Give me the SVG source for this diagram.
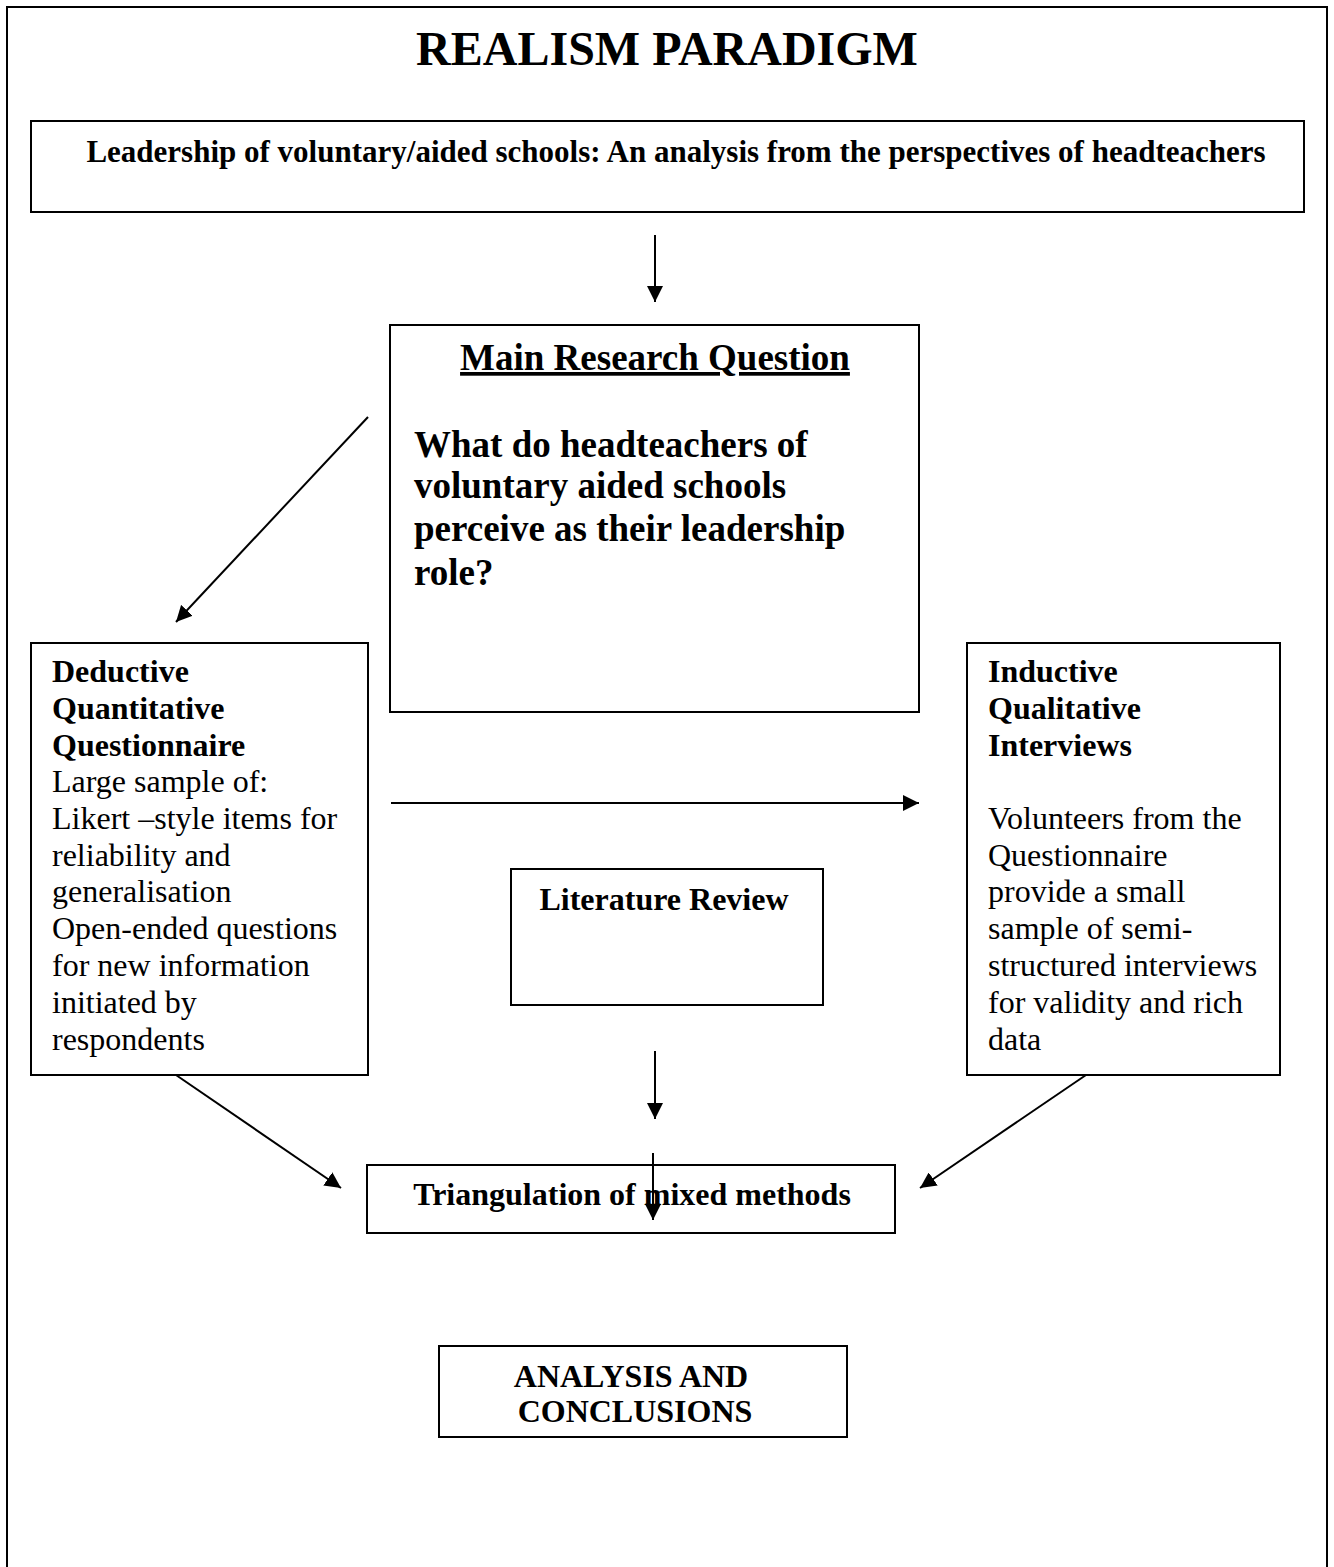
<svg xmlns="http://www.w3.org/2000/svg" width="1334" height="1567" viewBox="0 0 1334 1567">
<style>
.box{fill:#fff;stroke:#000;stroke-width:2}
.t{font-family:"Liberation Serif","Times New Roman",serif;fill:#000}
.b{font-weight:bold}
.c{stroke:#000;stroke-width:2;fill:none}
</style>
<defs>
<marker id="ah" viewBox="0 0 10 10" refX="10" refY="5" markerWidth="16" markerHeight="16" markerUnits="userSpaceOnUse" orient="auto">
<path d="M0,0 L10,5 L0,10 z" fill="#000"/>
</marker>
</defs>
<rect width="1334" height="1567" fill="#fff"/>
<path d="M7,1567 V7 H1327 V1567" class="c"/>
<text class="t b" x="667" y="65" font-size="48" text-anchor="middle">REALISM PARADIGM</text>

<g id="topic">
<rect class="box" x="31" y="121" width="1273" height="91"/>
<text class="t b" x="676" y="162" font-size="31" text-anchor="middle">Leadership of voluntary/aided schools: An analysis from the perspectives of headteachers</text>
</g>

<g id="main">
<rect class="box" x="390" y="325" width="529" height="387"/>
<text class="t b" x="655" y="370" font-size="37" text-anchor="middle" text-decoration="underline">Main Research Question</text>
<text class="t b" font-size="37">
<tspan x="414" y="457">What do headteachers of</tspan>
<tspan x="414" y="498">voluntary aided schools</tspan>
<tspan x="414" y="541">perceive as their leadership</tspan>
<tspan x="414" y="585">role?</tspan>
</text>
</g>

<g id="deductive">
<rect class="box" x="31" y="643" width="337" height="432"/>
<text class="t" font-size="32">
<tspan class="b" x="52" y="682">Deductive</tspan>
<tspan class="b" x="52" y="719">Quantitative</tspan>
<tspan class="b" x="52" y="756">Questionnaire</tspan>
<tspan x="52" y="792">Large sample of:</tspan>
<tspan x="52" y="829">Likert –style items for</tspan>
<tspan x="52" y="866">reliability and</tspan>
<tspan x="52" y="902">generalisation</tspan>
<tspan x="52" y="939">Open-ended questions</tspan>
<tspan x="52" y="976">for new information</tspan>
<tspan x="52" y="1013">initiated by</tspan>
<tspan x="52" y="1050">respondents</tspan>
</text>
</g>

<g id="inductive">
<rect class="box" x="967" y="643" width="313" height="432"/>
<text class="t" font-size="32">
<tspan class="b" x="988" y="682">Inductive</tspan>
<tspan class="b" x="988" y="719">Qualitative</tspan>
<tspan class="b" x="988" y="756">Interviews</tspan>
<tspan x="988" y="829">Volunteers from the</tspan>
<tspan x="988" y="866">Questionnaire</tspan>
<tspan x="988" y="902">provide a small</tspan>
<tspan x="988" y="939">sample of semi-</tspan>
<tspan x="988" y="976">structured interviews</tspan>
<tspan x="988" y="1013">for validity and rich</tspan>
<tspan x="988" y="1050">data</tspan>
</text>
</g>

<g id="literature">
<rect class="box" x="511" y="869" width="312" height="136"/>
<text class="t b" x="664" y="910" font-size="32" text-anchor="middle">Literature Review</text>
</g>

<g id="triangulation">
<rect class="box" x="367" y="1165" width="528" height="68"/>
<text class="t b" x="632" y="1205" font-size="32" text-anchor="middle">Triangulation of mixed methods</text>
</g>

<g id="analysis">
<rect class="box" x="439" y="1346" width="408" height="91"/>
<text class="t b" font-size="32" text-anchor="middle">
<tspan x="635" y="1387">ANALYSIS AND</tspan>
<tspan x="635" y="1422">CONCLUSIONS</tspan>
</text>
</g>

<g id="connectors">
<line class="c" x1="655" y1="235" x2="655" y2="302" marker-end="url(#ah)"/>
<line class="c" x1="368" y1="417" x2="176" y2="622" marker-end="url(#ah)"/>
<line class="c" x1="391" y1="803" x2="919" y2="803" marker-end="url(#ah)"/>
<line class="c" x1="655" y1="1051" x2="655" y2="1119" marker-end="url(#ah)"/>
<line class="c" x1="653" y1="1153" x2="653" y2="1220" marker-end="url(#ah)"/>
<line class="c" x1="176" y1="1075" x2="341" y2="1188" marker-end="url(#ah)"/>
<line class="c" x1="1086" y1="1075" x2="920" y2="1188" marker-end="url(#ah)"/>
</g>
</svg>
